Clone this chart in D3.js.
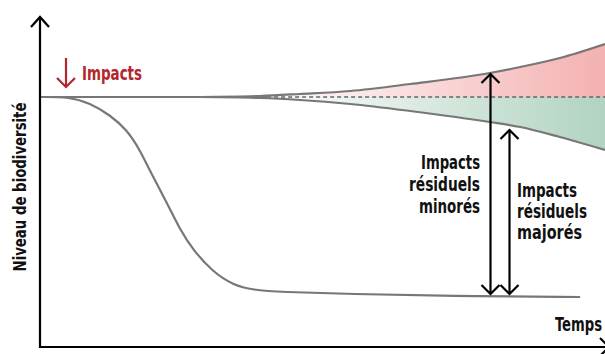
<!DOCTYPE html>
<html><head><meta charset="utf-8">
<script src="https://cdn.jsdelivr.net/npm/d3@7"></script>
<style>
html,body{margin:0;padding:0;background:#fff;}
svg{display:block;}
text{font-family:"DejaVu Sans Condensed","Liberation Sans Narrow",sans-serif;font-weight:bold;}
</style></head>
<body>
<svg id="c" width="605" height="354"></svg>
<script>
// ---- data (time 0-100, biodiversity level 0-100) ----
const baselineLevel = 100;
const declineTime  = [0, 5.3, 8.8, 12.4, 15.4, 17.7, 20, 22.5, 24.8, 27.1, 30.6, 34.2, 37.7, 42.5, 54.9, 72.6, 95.6];
const declineLevel = [100, 100, 97.6, 92.8, 86.8, 78.8, 68, 57.6, 46.8, 38.8, 30, 24.8, 22.8, 22, 21.2, 20.4, 20];
const fanTime      = [28.3, 38.9, 46, 54.9, 65.5, 79.6, 85, 92, 100];
const upperLevel   = [100, 100.4, 101.2, 102.4, 105.2, 109.6, 112, 115.6, 121.2];
const lowerLevel   = [100, 99.6, 98.8, 97.2, 94.4, 90, 88, 84, 78.8];
const dashStart = 40.2;
const arrowMinor = {time: 79.6, top: 109.6, bottom: 20.8};
const arrowMajor = {time: 83.0, top: 87.2, bottom: 20.8};
const labelMinor = ["Impacts", "résiduels", "minorés"];
const labelMajor = ["Impacts", "résiduels", "majorés"];
const yTitle = "Niveau de biodiversité";
const xTitle = "Temps";
const impactLabel = "Impacts";

const svg = d3.select("#c");
const x = d3.scaleLinear().domain([0, 100]).range([40, 605]);
const y = d3.scaleLinear().domain([0, 100]).range([347, 97]);

const defs = svg.append("defs");
function grad(id, c) {
  const g = defs.append("linearGradient").attr("id", id)
    .attr("gradientUnits", "userSpaceOnUse")
    .attr("x1", x(38)).attr("x2", x(100)).attr("y1", 0).attr("y2", 0);
  g.append("stop").attr("offset", 0).attr("stop-color", "#fff").attr("stop-opacity", 1);
  g.append("stop").attr("offset", 1).attr("stop-color", c);
}
grad("gRed", "#f4b1b1");
grad("gGreen", "#b1d3c1");

const fan = fanTime.map((t, i) => ({t, u: upperLevel[i], l: lowerLevel[i]}));
const curve = d3.curveMonotoneX;

svg.append("path").datum(fan)
  .attr("d", d3.area().x(d => x(d.t)).y0(y(baselineLevel)).y1(d => y(d.u)).curve(curve))
  .attr("fill", "url(#gRed)");
svg.append("path").datum(fan)
  .attr("d", d3.area().x(d => x(d.t)).y0(y(baselineLevel)).y1(d => y(d.l)).curve(curve))
  .attr("fill", "url(#gGreen)");

const gray = "#777";
svg.append("line").attr("x1", x(0)).attr("x2", x(dashStart)).attr("y1", y(baselineLevel)).attr("y2", y(baselineLevel))
  .attr("stroke", gray).attr("stroke-width", 2.2);
svg.append("line").attr("x1", x(dashStart)).attr("x2", x(100)).attr("y1", y(baselineLevel)).attr("y2", y(baselineLevel))
  .attr("stroke", "#666").attr("stroke-width", 1.5).attr("stroke-dasharray", "4,3");

const line = d3.line().curve(curve);
svg.append("path").attr("d", line(fan.map(d => [x(d.t), y(d.u)])))
  .attr("fill", "none").attr("stroke", gray).attr("stroke-width", 2.2);
svg.append("path").attr("d", line(fan.map(d => [x(d.t), y(d.l)])))
  .attr("fill", "none").attr("stroke", gray).attr("stroke-width", 2.2);
svg.append("path").attr("d", d3.line().curve(d3.curveBasis)(declineTime.map((t, i) => [x(t), y(declineLevel[i])])))
  .attr("fill", "none").attr("stroke", gray).attr("stroke-width", 2.2);

// axes
const ax = svg.append("g").attr("stroke", "#000").attr("stroke-width", 2.2).attr("fill", "none");
ax.append("line").attr("x1", x(0)).attr("x2", x(0)).attr("y1", y(0) + 1).attr("y2", 17);
ax.append("path").attr("d", `M${x(0) - 9},${27} L${x(0)},${17} L${x(0) + 9},${27}`);
ax.append("line").attr("x1", x(0) - 1).attr("x2", 612).attr("y1", y(0)).attr("y2", y(0));
ax.append("path").attr("d", `M${600},${y(0) - 9} L${609},${y(0)} L${600},${y(0) + 9}`);

// double arrows
function dbl(a) {
  const g = svg.append("g").attr("stroke", "#000").attr("stroke-width", 2.2).attr("fill", "none");
  const xx = Math.round(x(a.time)) + 0.5, t = y(a.top), b = y(a.bottom);
  g.append("line").attr("x1", xx).attr("x2", xx).attr("y1", t + 1).attr("y2", b - 1);
  g.append("path").attr("d", `M${xx - 9},${t + 10} L${xx},${t + 1} L${xx + 9},${t + 10}`);
  g.append("path").attr("d", `M${xx - 9},${b - 10} L${xx},${b - 1} L${xx + 9},${b - 10}`);
}
dbl(arrowMinor);
dbl(arrowMajor);

// red impact arrow
const red = "#b3262b";
const rg = svg.append("g").attr("stroke", red).attr("stroke-width", 2.2).attr("fill", "none");
rg.append("line").attr("x1", 66).attr("x2", 66).attr("y1", 58).attr("y2", 87);
rg.append("path").attr("d", "M57,78 L66,87 L75,78");

function fit(sel, w) { sel.attr("textLength", w).attr("lengthAdjust", "spacingAndGlyphs"); }

svg.append("text").attr("x", 82).attr("y", 80).attr("fill", red).attr("font-size", 20)
  .text(impactLabel).call(fit, 60);

const wMinor = [59, 71, 61], wMajor = [60, 70, 65];
svg.append("text").attr("text-anchor", "end").attr("font-size", 19).attr("fill", "#111")
  .selectAll("tspan").data(labelMinor).join("tspan")
  .attr("x", 480).attr("y", (d, i) => 169 + i * 22)
  .attr("textLength", (d, i) => wMinor[i]).attr("lengthAdjust", "spacingAndGlyphs").text(d => d);
svg.append("text").attr("text-anchor", "start").attr("font-size", 19).attr("fill", "#111")
  .selectAll("tspan").data(labelMajor).join("tspan")
  .attr("x", 517).attr("y", (d, i) => 197 + i * 21)
  .attr("textLength", (d, i) => wMajor[i]).attr("lengthAdjust", "spacingAndGlyphs").text(d => d);

svg.append("text").attr("x", 555).attr("y", 331).attr("font-size", 19).attr("fill", "#111")
  .text(xTitle).call(fit, 47);
svg.append("text").attr("transform", "translate(26,187) rotate(-90)").attr("text-anchor", "middle")
  .attr("font-size", 18).attr("fill", "#111").text(yTitle).call(fit, 169);
</script>
</body></html>
